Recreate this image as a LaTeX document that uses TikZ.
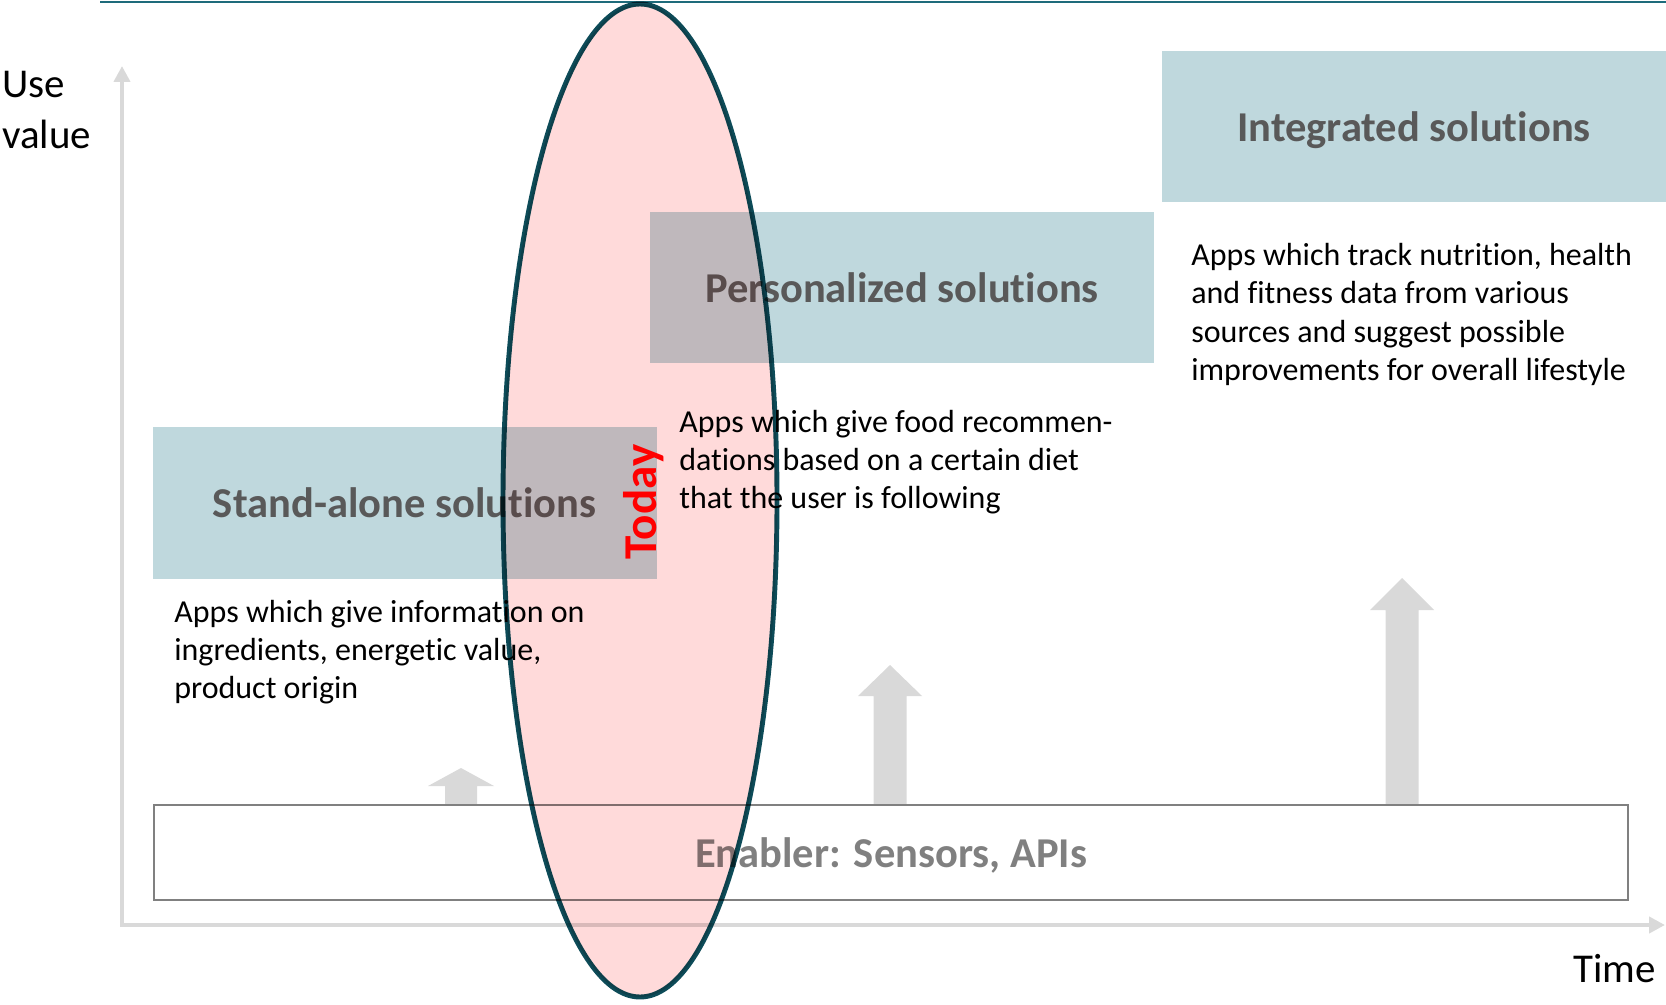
\documentclass[tikz,border=0pt]{standalone}
\usepackage{fontspec}
\setmainfont{Carlito}[Ligatures=NoCommon]
\usetikzlibrary{arrows.meta}

\definecolor{solblue}{RGB}{191,216,221}
\definecolor{titlegray}{RGB}{89,89,89}
\definecolor{enablergray}{RGB}{128,128,128}
\definecolor{axisgray}{RGB}{217,217,217}
\definecolor{todaypink}{RGB}{255,218,218}
\definecolor{todayline}{RGB}{13,75,88}
\definecolor{topteal}{RGB}{30,107,123}

\tikzset{
  solbox/.style={fill=solblue, minimum width=10.08cm, minimum height=3.02cm, inner sep=0pt,
    text depth=0pt, text=titlegray, font=\fontsize{24.2}{29}\selectfont\bfseries},
  appstext/.style={anchor=west, align=left, inner sep=0pt, font=\fontsize{18.2}{21.8}\selectfont},
  axislabel/.style={align=left, inner sep=0pt, font=\fontsize{23.3}{28.5}\selectfont},
  axisline/.style={draw=axisgray, line width=2.3pt, -{Triangle[length=0.32cm,width=0.32cm]}}
}

\begin{document}
\begin{tikzpicture}
\useasboundingbox (0,0) rectangle (33.32,20.08);

\draw[topteal, line width=1.1pt] (2.0,20.04)--(33.32,20.04);

\draw[axisline] (2.44,1.58)--(2.44,18.76);
\draw[axisline] (2.40,1.58)--(33.30,1.58);
\node[axislabel, anchor=west] (usevalue) at (0.04,17.88) {Use\\value};
\node[axislabel, anchor=east] (time) at (33.12,0.70) {Time};

\node[solbox] (standalone) at (8.09,10.02) {Stand-alone solutions};
\node[solbox] (personal) at (18.04,14.33) {Personalized solutions};
\node[solbox] (integrated) at (28.28,17.55) {Integrated solutions};

\node[appstext] (standtext) at (3.48,7.04) {Apps which give information on\\ingredients, energetic value,\\product origin};
\node[appstext] (personaltext) at (13.58,10.84) {Apps which give food recommen-\\dations based on a certain diet\\that the user is following};
\node[appstext] (integratedtext) at (23.82,13.79) {Apps which track nutrition, health\\and fitness data from various\\sources and suggest possible\\improvements for overall lifestyle};

\fill[axisgray] (8.90,3.98)--(8.90,4.36)--(8.56,4.36)--(9.22,4.72)--(9.88,4.36)--(9.54,4.36)--(9.54,3.98)--cycle;
\fill[axisgray] (17.47,3.98)--(17.47,6.16)--(17.16,6.16)--(17.80,6.78)--(18.44,6.16)--(18.13,6.16)--(18.13,3.98)--cycle;
\fill[axisgray] (27.71,3.98)--(27.71,7.88)--(27.40,7.88)--(28.04,8.52)--(28.68,7.88)--(28.37,7.88)--(28.37,3.98)--cycle;

\node[draw=enablergray, line width=1.1pt, minimum width=29.48cm, minimum height=1.9cm, text depth=0pt,
  text=enablergray, font=\fontsize{24.2}{29}\selectfont\bfseries] (enabler) at (17.82,3.03) {Enabler: Sensors, APIs};

\draw[todayline, fill=todaypink, line width=2.8pt, blend mode=multiply] (12.80,10.07) ellipse [x radius=2.74, y radius=9.93];
\node[rotate=90, text=red, inner sep=0pt, font=\fontsize{26.8}{31}\selectfont\bfseries] (today) at (12.87,10.04) {Today};

\end{tikzpicture}
\end{document}
